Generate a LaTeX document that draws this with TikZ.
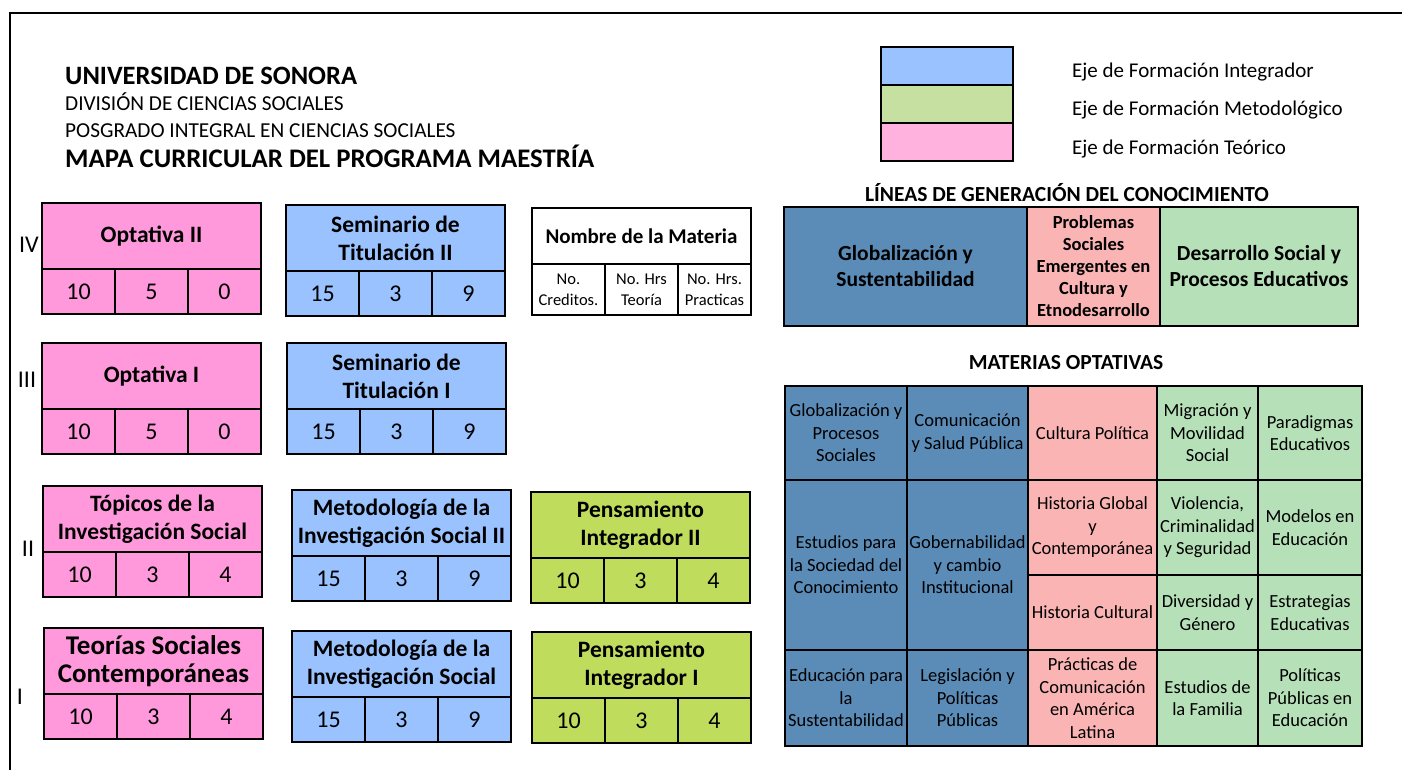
\documentclass[tikz,border=0pt]{standalone}
\usepackage{fontspec}
\setmainfont{Carlito}
\usetikzlibrary{positioning}

\definecolor{rosa}{HTML}{FF99DC}
\definecolor{celeste}{HTML}{99C2FF}
\definecolor{lima}{HTML}{C0DC5C}
\definecolor{ejeazul}{HTML}{99C2FF}
\definecolor{ejeverde}{HTML}{C5E0A0}
\definecolor{ejerosa}{HTML}{FFB2DE}
\definecolor{lgcazul}{HTML}{5B8CB8}
\definecolor{lgcrosa}{HTML}{FAB4B4}
\definecolor{lgcverde}{HTML}{B6E1B8}

\newcommand{\grande}{\fontsize{27}{32}\selectfont}

\tikzset{
  caja/.style={draw, line width=2.5pt, outer sep=0pt, inner sep=1pt, align=center},
  cabeza/.style={caja, minimum width=219pt, minimum height=66pt, font=\bfseries\fontsize{23.5}{28}\selectfont},
  celda/.style={caja, minimum width=73pt, minimum height=45pt, font=\fontsize{24}{28}\selectfont},
  opcion/.style={caja, font=\fontsize{18.5}{22.5}\selectfont},
  linea/.style={caja, minimum height=119pt, font=\bfseries\fontsize{21.5}{26}\selectfont},
  texto/.style={anchor=base west, inner sep=0pt},
  titulo/.style={anchor=base, inner sep=0pt, font=\bfseries\fontsize{21.5}{26}\selectfont},
  semestre/.style={font=\fontsize{24}{28}\selectfont},
}

\newcommand{\materia}[7]{%
  \node[cabeza, fill=#2, anchor=north west] (#1) at #3 {#4};
  \node[celda, fill=#2, anchor=north west] (#1a) at (#1.south west) {#5};
  \node[celda, fill=#2, right=0pt of #1a] (#1b) {#6};
  \node[celda, fill=#2, right=0pt of #1b] (#1c) {#7};
}
\newcommand{\optativa}[6]{%
  \node[opcion, fill=#2, minimum width=#4pt, minimum height=#5pt, anchor=north west] (#1) at #3 {#6};
}

\begin{document}
\begin{tikzpicture}[x=1pt, y=-1pt]
\useasboundingbox (0,0) rectangle (1402,770);

\draw[line width=2pt] (10,770) -- (10,13) -- (1402,13);

% encabezado
\node[texto, font=\bfseries\fontsize{26.5}{31}\selectfont] (uni) at (65,85) {UNIVERSIDAD DE SONORA};
\node[texto, font=\fontsize{21.3}{25}\selectfont] (div) at (65,111) {DIVISIÓN DE CIENCIAS SOCIALES};
\node[texto, font=\fontsize{21.3}{25}\selectfont] (pos) at (65,138) {POSGRADO INTEGRAL EN CIENCIAS SOCIALES};
\node[texto, font=\bfseries\fontsize{26.8}{31}\selectfont] (mapa) at (65,168) {MAPA CURRICULAR DEL PROGRAMA MAESTRÍA};

% ejes de formacion
\node[caja, fill=ejeazul, minimum width=132pt, minimum height=38pt, anchor=north west] (ejeint) at (881,47) {};
\node[caja, fill=ejeverde, minimum width=132pt, minimum height=38pt, below=0pt of ejeint] (ejemet) {};
\node[caja, fill=ejerosa, minimum width=132pt, minimum height=38pt, below=0pt of ejemet] (ejeteo) {};
\node[texto, font=\fontsize{21}{26}\selectfont] (tint) at (1072,78) {Eje de Formación Integrador};
\node[texto, font=\fontsize{21}{26}\selectfont] (tmet) at (1072,116) {Eje de Formación Metodológico};
\node[texto, font=\fontsize{21}{26}\selectfont] (tteo) at (1072,155) {Eje de Formación Teórico};

% semestres
\node[semestre] (sIV) at (29,245) {IV};
\node[semestre] (sIII) at (27,380) {III};
\node[semestre] (sII) at (28,549) {II};
\node[semestre] (sI) at (20,697) {I};

\materia{optII}{rosa}{(42,203)}{Optativa II}{10}{5}{0}
\materia{semII}{celeste}{(286,205)}{Seminario de\\Titulación II}{15}{3}{9}
\materia{optI}{rosa}{(42,343)}{Optativa I}{10}{5}{0}
\materia{semI}{celeste}{(287,343)}{Seminario de\\Titulación I}{15}{3}{9}
\materia{topicos}{rosa}{(43,486)}{Tópicos de la\\Investigación Social}{10}{3}{4}
\materia{metII}{celeste}{(292,490)}{Metodología de la\\Investigación Social II}{15}{3}{9}
\materia{penII}{lima}{(531,492)}{Pensamiento\\Integrador II}{10}{3}{4}
\materia{teorias}{rosa}{(44,628)}{\grande Teorías Sociales\\\grande Contemporáneas}{10}{3}{4}
\materia{metI}{celeste}{(292,631)}{Metodología de la\\Investigación Social}{15}{3}{9}
\materia{penI}{lima}{(532,632)}{Pensamiento\\Integrador I}{10}{3}{4}

% clave
\node[caja, minimum width=219pt, minimum height=56pt, anchor=north west, font=\bfseries\fontsize{21}{25}\selectfont] (nombre) at (532,208) {Nombre de la Materia};
\node[caja, minimum width=73pt, minimum height=51pt, anchor=north west, font=\fontsize{16.5}{21}\selectfont] (cred) at (nombre.south west) {No.\\Creditos.};
\node[caja, minimum width=73pt, minimum height=51pt, right=0pt of cred, font=\fontsize{16.5}{21}\selectfont] (teo) {No. Hrs\\Teoría};
\node[caja, minimum width=73pt, minimum height=51pt, right=0pt of teo, font=\fontsize{16.5}{21}\selectfont] (pra) {No. Hrs.\\Practicas};

% lineas de generacion
\node[titulo] (tlgc) at (1067,202) {LÍNEAS DE GENERACIÓN DEL CONOCIMIENTO};
\node[linea, fill=lgcazul, minimum width=243pt, anchor=north west] (lgc1) at (784,207) {Globalización y\\Sustentabilidad};
\node[linea, fill=lgcrosa, minimum width=133pt, right=0pt of lgc1, font=\bfseries\fontsize{18.5}{22}\selectfont] (lgc2) {Problemas\\Sociales\\Emergentes en\\Cultura y\\Etnodesarrollo};
\node[linea, fill=lgcverde, minimum width=198pt, right=0pt of lgc2] (lgc3) {Desarrollo Social y\\Procesos Educativos};

% optativas
\node[titulo] (topt) at (1066,369) {MATERIAS OPTATIVAS};
\optativa{o11}{lgcazul}{(785,386)}{122}{94}{Globalización y\\Procesos\\Sociales}
\optativa{o21}{lgcazul}{(785,480)}{122}{170}{Estudios para\\la Sociedad del\\Conocimiento}
\optativa{o31}{lgcazul}{(785,650)}{122}{96}{Educación para\\la\\Sustentabilidad}
\optativa{o12}{lgcazul}{(907,386)}{121}{94}{Comunicación\\y Salud Pública}
\optativa{o22}{lgcazul}{(907,480)}{121}{170}{Gobernabilidad\\y cambio\\Institucional}
\optativa{o32}{lgcazul}{(907,650)}{121}{96}{Legislación y\\Políticas\\Públicas}
\optativa{o13}{lgcrosa}{(1028,386)}{129}{94}{Cultura Política}
\optativa{o23}{lgcrosa}{(1028,480)}{129}{95}{Historia Global\\y\\Contemporánea}
\optativa{o33}{lgcrosa}{(1028,575)}{129}{75}{Historia Cultural}
\optativa{o43}{lgcrosa}{(1028,650)}{129}{96}{Prácticas de\\Comunicación\\en América\\Latina}
\optativa{o14}{lgcverde}{(1157,386)}{101}{94}{Migración y\\Movilidad\\Social}
\optativa{o24}{lgcverde}{(1157,480)}{101}{95}{Violencia,\\Criminalidad\\y Seguridad}
\optativa{o34}{lgcverde}{(1157,575)}{101}{75}{Diversidad y\\Género}
\optativa{o44}{lgcverde}{(1157,650)}{101}{96}{Estudios de\\la Familia}
\optativa{o15}{lgcverde}{(1258,386)}{104}{94}{Paradigmas\\Educativos}
\optativa{o25}{lgcverde}{(1258,480)}{104}{95}{Modelos en\\Educación}
\optativa{o35}{lgcverde}{(1258,575)}{104}{75}{Estrategias\\Educativas}
\optativa{o45}{lgcverde}{(1258,650)}{104}{96}{Políticas\\Públicas en\\Educación}

\end{tikzpicture}
\end{document}
